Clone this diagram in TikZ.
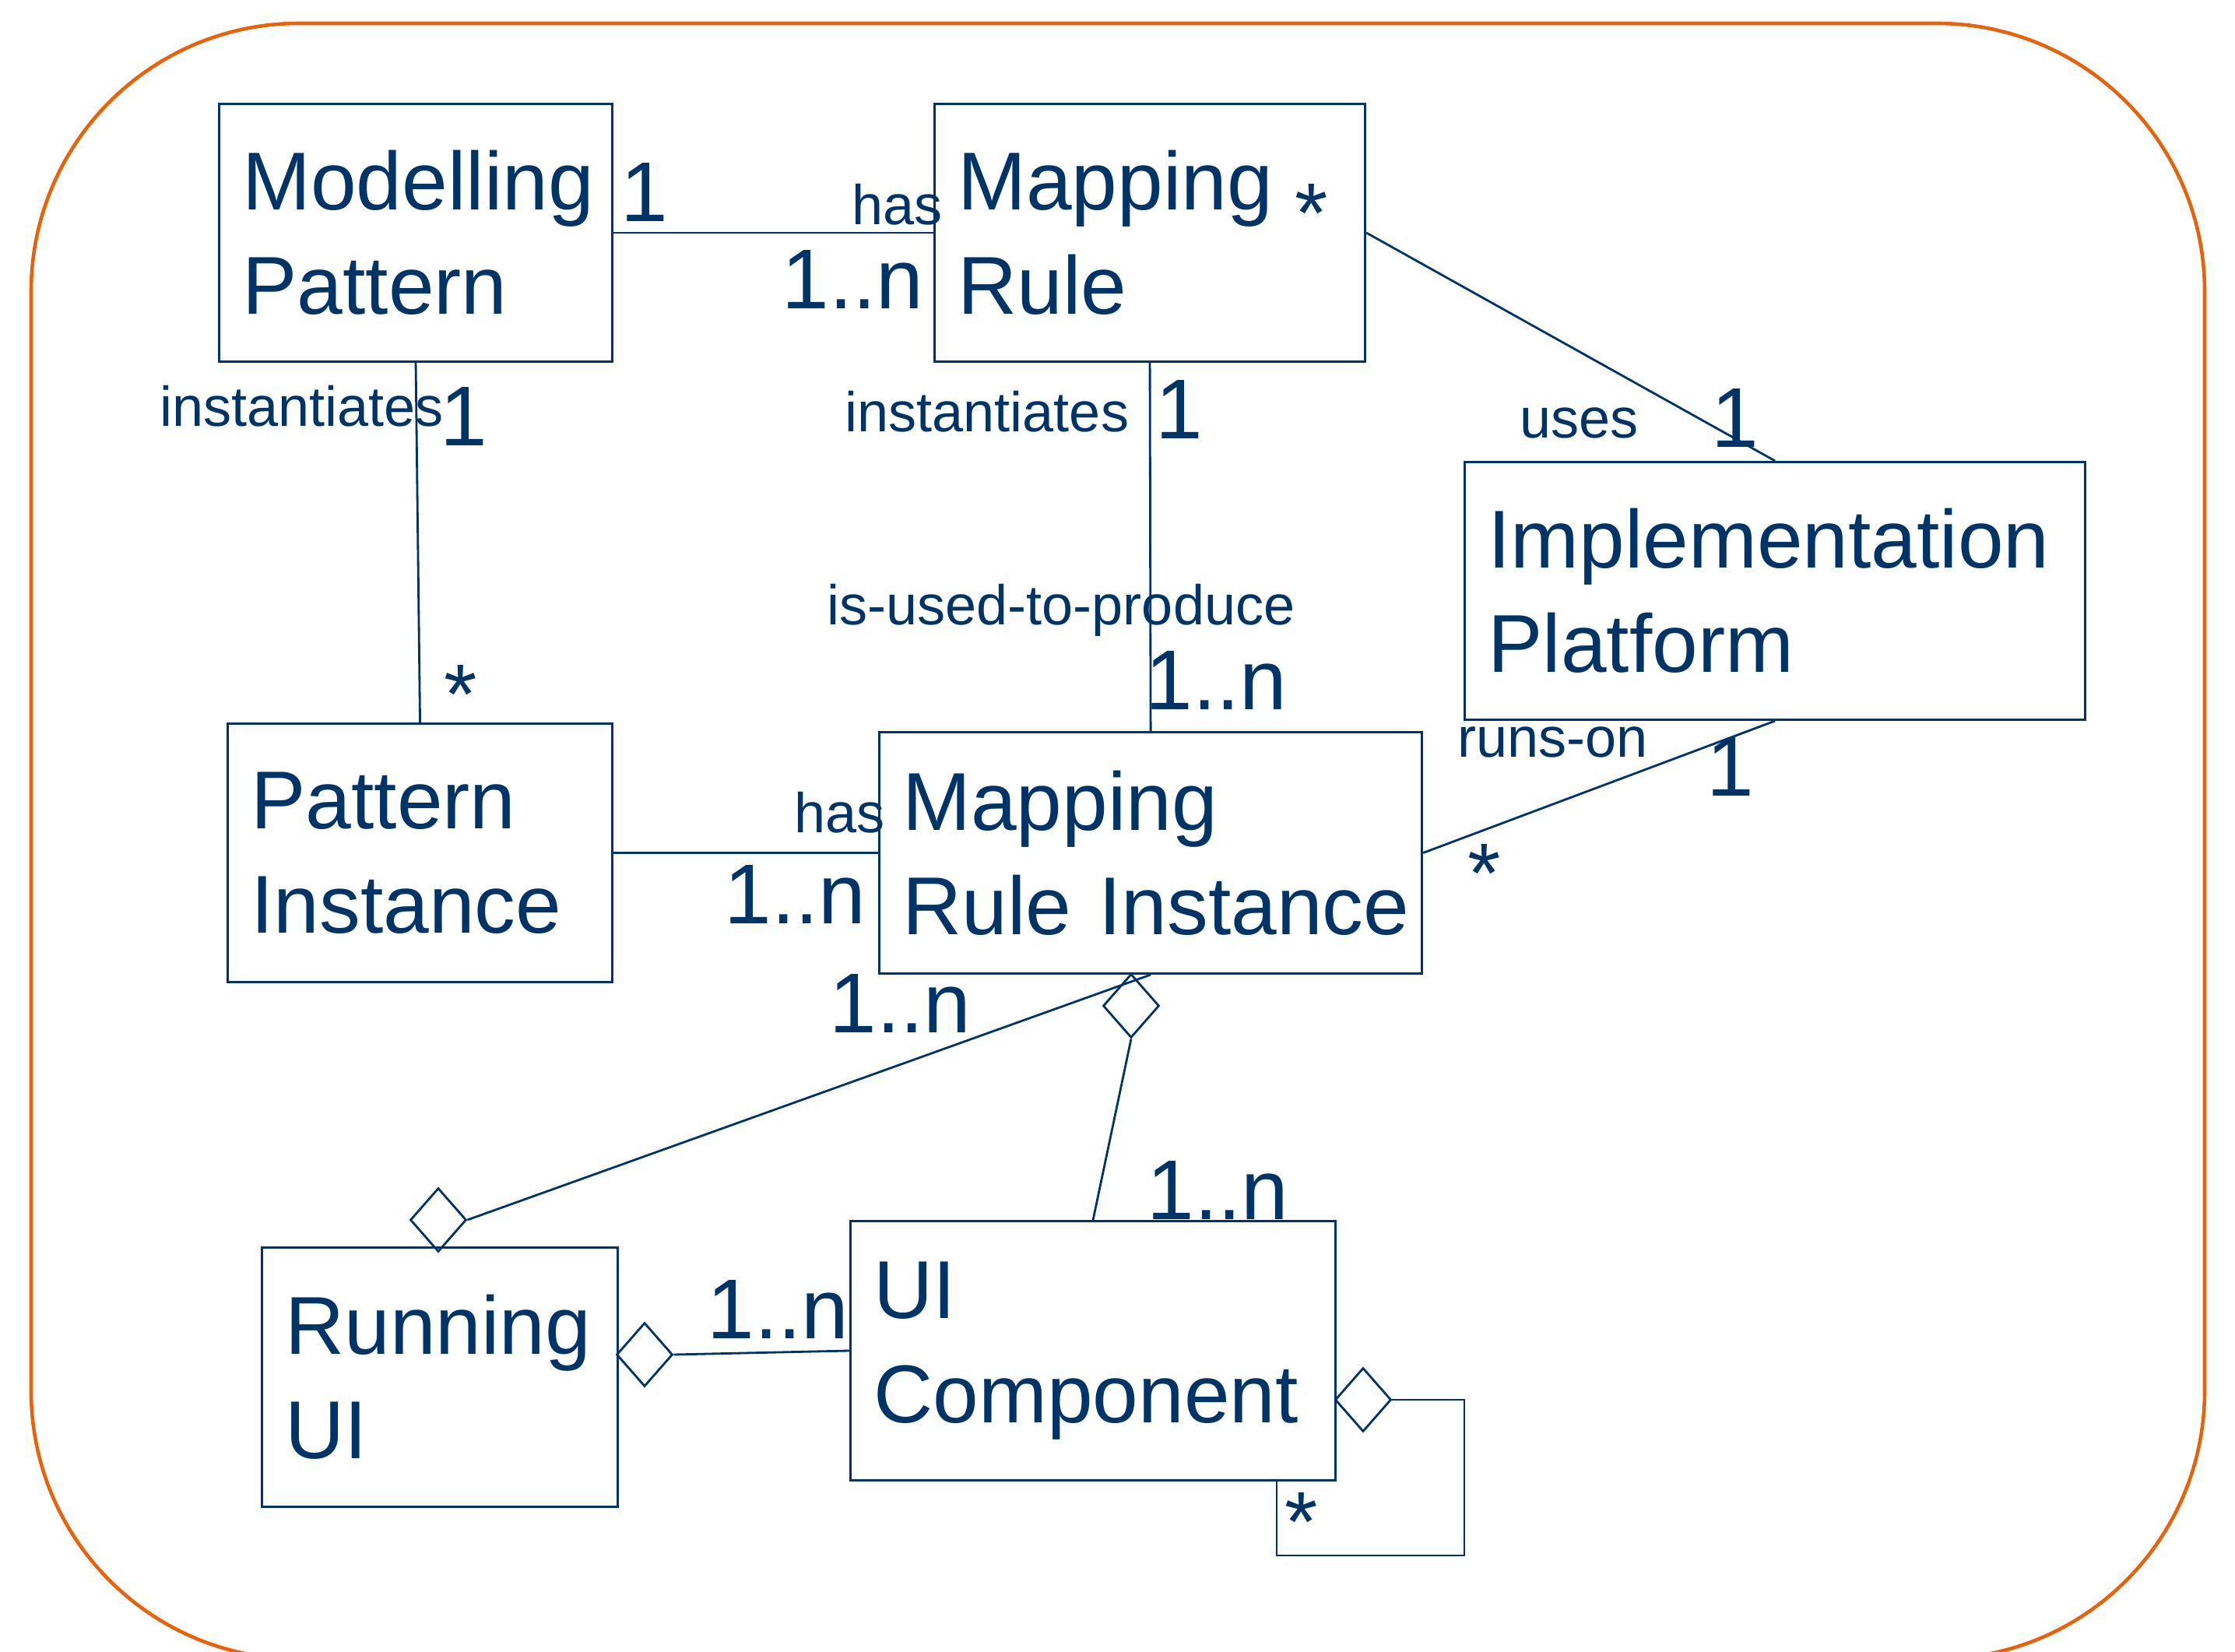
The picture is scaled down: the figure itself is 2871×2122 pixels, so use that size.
\documentclass[tikz,border=0pt]{standalone}
\usepackage{fontspec}
\setmainfont{Liberation Sans}
\usepackage{tikz}
\usetikzlibrary{shapes.geometric}
\usepackage{xcolor}
\definecolor{navy}{RGB}{0,51,102}
\definecolor{frameorange}{RGB}{232,98,10}

\begin{document}
\begin{tikzpicture}[x=0.01cm,y=-0.01cm,line width=0.8pt,color=navy,
    class node/.style={rectangle,draw,anchor=north west,inner xsep=0.3cm,inner ysep=0pt,
      align=left,font=\fontsize{30}{38}\selectfont},
    agg/.style={diamond,draw,inner sep=0pt,minimum width=0.72cm,minimum height=0.82cm},
    mult/.style={anchor=base west,inner sep=0pt,font=\fontsize{31}{37}\selectfont},
    role/.style={anchor=base west,inner sep=0pt,font=\fontsize{20.5}{24}\selectfont}]

    \useasboundingbox (0,0) rectangle (2871,2122);

    % Frame
    \draw[frameorange,line width=1.3pt,rounded corners=3.44cm] (40,30) rectangle (2832,2131);

    % Nodes
    % Pattern level
    \node[class node,minimum width=5.05cm,minimum height=3.31cm,text width=4.45cm] (mp) at (280,132) {Modelling\\Pattern};
    \node[class node,minimum width=5.53cm,minimum height=3.31cm,text width=4.93cm] (mr) at (1199,132) {Mapping\\Rule};
    \node[class node,minimum width=7.97cm,minimum height=3.31cm,text width=7.37cm] (ip) at (1880,592) {Implementation\\Platform};

    % Instance level
    \node[class node,minimum width=4.94cm,minimum height=3.32cm,text width=4.34cm] (pi) at (291,928) {Pattern\\Instance};
    \node[class node,minimum width=6.97cm,minimum height=3.10cm,text width=6.37cm] (mri) at (1128,939) {Mapping\\\mbox{Rule Instance}};

    % UI level
    \node[class node,minimum width=4.57cm,minimum height=3.33cm,text width=3.97cm] (rui) at (335,1601) {Running\\UI};
    \node[class node,minimum width=6.23cm,minimum height=3.33cm,text width=5.63cm] (uic) at (1091,1567) {UI\\Component};

    % Aggregation diamonds
    \node[agg] (d1) at (563,1567) {};
    \node[agg] (d2) at (1453,1292) {};
    \node[agg] (d3) at (828,1740) {};
    \node[agg] (d4) at (1751,1798) {};

    \coordinate (loopA) at (1881,1798);
    \coordinate (loopB) at (1881,1998);
    \coordinate (loopC) at (1640,1998);

    % Edges
    \draw (mp) -- (mr);
    \draw (mp.south) -- (pi.north);
    \draw (mr.south) -- (mri.north);
    \draw (mr.east) -- (ip.north);
    \draw (pi) -- (mri);
    \draw (mri.east) -- (ip.south);

    \draw (d1.east) -- (mri.south);
    \draw (d2.south) -- (uic.north);
    \draw (d3.east) -- (uic.west);
    \draw (d4.east) -- (loopA) -- (loopB) -- (loopC) -- (loopC |- uic.south);

    % Labels
    \node[mult] (m1) at (796,285) {1};
    \node[role] (r1) at (1093,289) {has};
    \node[mult] (m2) at (1003,397) {1..n};
    \node[mult] (m3) at (1662,312) {*};

    \node[role] (r2) at (204,548) {instantiates};
    \node[mult] (m4) at (564,573) {1};
    \node[mult] (m5) at (569,930) {*};

    \node[role] (r3) at (1084,555) {instantiates};
    \node[mult] (m6) at (1483,564) {1};
    \node[role] (r4) at (1061,803) {is-used-to-produce};
    \node[mult] (m7) at (1470,912) {1..n};

    \node[role] (r5) at (1951,563) {uses};
    \node[mult] (m8) at (2197,575) {1};

    \node[role] (r6) at (1871,973) {runs-on};
    \node[mult] (m9) at (2191,1023) {1};
    \node[mult] (m10) at (1884,1160) {*};

    \node[role] (r7) at (1019,1070) {has};
    \node[mult] (m11) at (929,1187) {1..n};

    \node[mult] (m12) at (1064,1327) {1..n};
    \node[mult] (m13) at (1472,1567) {1..n};
    \node[mult] (m14) at (907,1719) {1..n};
    \node[mult] (m15) at (1649,1992) {*};
\end{tikzpicture}
\end{document}
